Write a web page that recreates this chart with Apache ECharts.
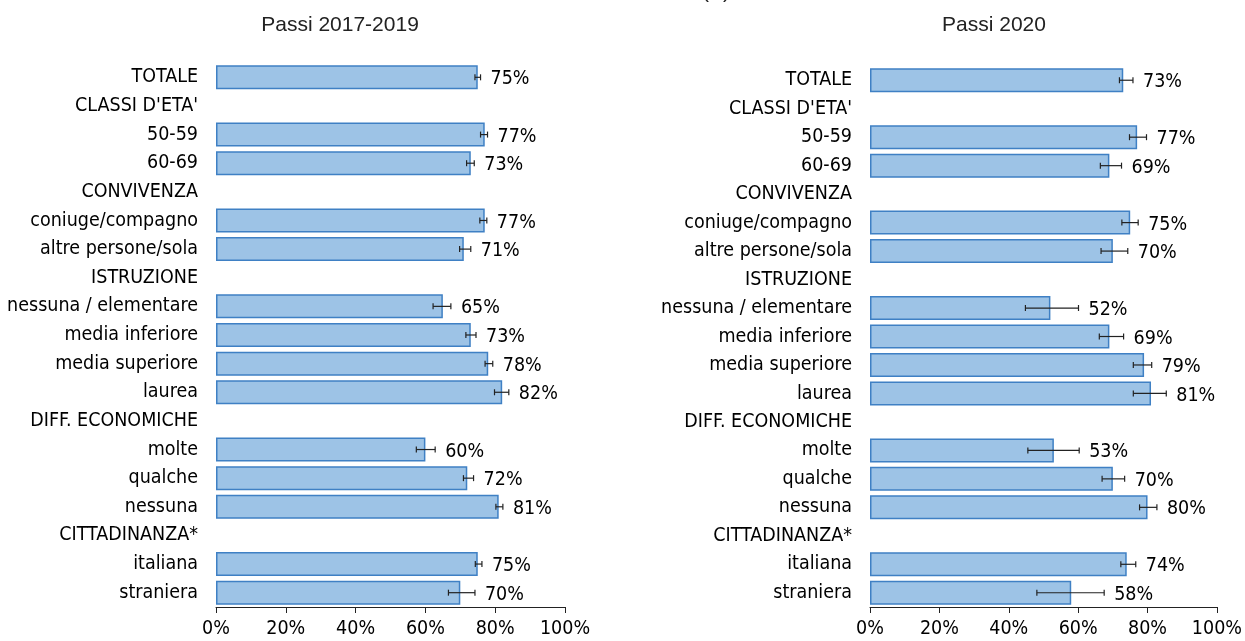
<!DOCTYPE html>
<html>
<head>
<meta charset="utf-8">
<script src="https://cdn.jsdelivr.net/npm/echarts@6/dist/echarts.min.js"></script>
<style>html,body{margin:0;padding:0;background:#fff}#c{width:1245px;height:641px}</style>
</head>
<body>
<div id="c"></div>
<script>
const categories = ["TOTALE","CLASSI D'ETA'","50-59","60-69","CONVIVENZA","coniuge/compagno","altre persone/sola","ISTRUZIONE","nessuna / elementare","media inferiore","media superiore","laurea","DIFF. ECONOMICHE","molte","qualche","nessuna","CITTADINANZA*","italiana","straniera"];
const titles = ["Passi 2017-2019", "Passi 2020"];
const xTicks = [0, 20, 40, 60, 80, 100];

// Passi 2017-2019
const values1 = [75,null,77,73,null,77,71,null,65,73,78,82,null,60,72,81,null,75,70];
const low1    = [74.2,null,75.8,71.8,null,75.6,69.8,null,62.2,71.6,77.1,79.8,null,57.4,70.9,80.2,null,74.3,66.6];
const high1   = [75.8,null,77.8,74.0,null,77.6,73.0,null,67.3,74.5,79.3,83.9,null,62.8,73.8,82.2,null,76.2,74.2];
// Passi 2020
const values2 = [73,null,77,69,null,75,70,null,52,69,79,81,null,53,70,80,null,74,58];
const low2    = [71.9,null,74.8,66.4,null,72.6,66.6,null,44.8,66.1,75.9,75.9,null,45.5,66.9,77.7,null,72.3,48.1];
const high2   = [75.8,null,79.7,72.5,null,77.3,74.3,null,60.1,73.1,81.2,85.4,null,60.3,73.4,82.7,null,76.6,67.5];

const chart = echarts.init(document.getElementById('c'));
const catFont = 'Tahoma, "DejaVu Sans Condensed", "DejaVu Sans", sans-serif';
const titleFont = '21px "Liberation Sans", Arial, sans-serif';

function errData(vals, lo, hi) {
  const out = [];
  vals.forEach((v, i) => { if (v != null) out.push([i, lo[i], hi[i], v]); });
  return out;
}
function renderErr(params, api) {
  const idx = api.value(0);
  const p1 = api.coord([api.value(1), idx]);
  const p2 = api.coord([api.value(2), idx]);
  const cap = 3;
  const st = { stroke: '#222', lineWidth: 1.2 };
  return {
    type: 'group',
    children: [
      { type: 'line', shape: { x1: p1[0], y1: p1[1], x2: p2[0], y2: p2[1] }, style: st },
      { type: 'line', shape: { x1: p1[0], y1: p1[1]-cap, x2: p1[0], y2: p1[1]+cap }, style: st },
      { type: 'line', shape: { x1: p2[0], y1: p2[1]-cap, x2: p2[0], y2: p2[1]+cap }, style: st },
      { type: 'text', x: p2[0] + 10, y: p2[1] + 2,
        style: { text: Math.round(api.value(3)) + '%', font: '19.5px ' + catFont, fill: '#000', textVerticalAlign: 'middle', textAlign: 'left' } }
    ]
  };
}

const grids = [
  { left: 216, width: 349, top: 63, height: 544 },
  { left: 870, width: 348, top: 66, height: 541 }
];
const xAxes = grids.map((g, i) => ({
  gridIndex: i, type: 'value', min: 0, max: 100, interval: 20,
  axisLine: { show: true, lineStyle: { color: '#222', width: 1 } },
  axisTick: { show: true, length: 6, lineStyle: { color: '#222' } },
  splitLine: { show: false },
  axisLabel: { formatter: v => v + '%', fontSize: 19.5, color: '#000', fontFamily: catFont, margin: 12 }
}));
const yAxes = grids.map((g, i) => ({
  gridIndex: i, type: 'category', data: categories, inverse: true,
  axisLine: { show: false }, axisTick: { show: false },
  axisLabel: { fontSize: 19.5, color: '#000', fontFamily: catFont, margin: 18 }
}));

const barStyle = { color: '#9DC3E6', borderColor: '#3f80c4', borderWidth: 1.5 };

chart.setOption({
  animation: false,
  grid: grids,
  xAxis: xAxes,
  yAxis: yAxes,
  graphic: [
    { type: 'text', style: { text: titles[0], font: titleFont, fill: '#222', textAlign: 'center', textVerticalAlign: 'middle' }, position: [340, 25] },
    { type: 'text', style: { text: titles[1], font: titleFont, fill: '#222', textAlign: 'center', textVerticalAlign: 'middle' }, position: [994, 25] },
    { type: 'text', style: { text: '(A)', font: titleFont, fill: '#222', textAlign: 'center', textVerticalAlign: 'bottom' }, position: [716, 3] }
  ],
  series: [
    { type: 'bar', xAxisIndex: 0, yAxisIndex: 0, data: values1, barWidth: 24, itemStyle: barStyle, silent: true },
    { type: 'bar', xAxisIndex: 1, yAxisIndex: 1, data: values2, barWidth: 24, itemStyle: barStyle, silent: true },
    { type: 'custom', xAxisIndex: 0, yAxisIndex: 0, data: errData(values1, low1, high1), renderItem: renderErr, encode: { x: [1, 2], y: 0 }, z: 5, silent: true },
    { type: 'custom', xAxisIndex: 1, yAxisIndex: 1, data: errData(values2, low2, high2), renderItem: renderErr, encode: { x: [1, 2], y: 0 }, z: 5, silent: true }
  ]
});
</script>
</body>
</html>
